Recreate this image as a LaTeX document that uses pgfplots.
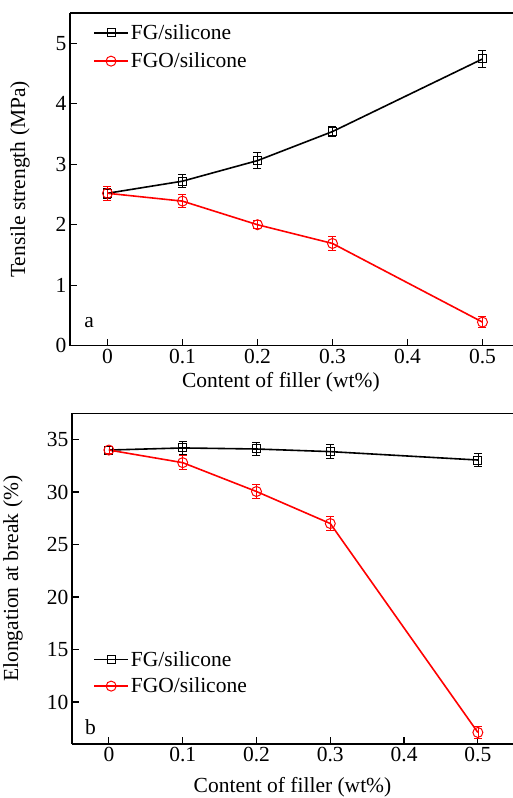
\documentclass[border=0pt]{standalone}
\usepackage{fontspec}
\setmainfont{Liberation Serif}
\usepackage{pgfplots}
\pgfplotsset{compat=1.18}

\newcommand{\bigfont}{\fontsize{21.5}{24}\selectfont}

\pgfplotsset{
  panel/.style={
    scale only axis,
    axis x line*=box, axis y line*=left,
    xtick pos=bottom, ytick pos=left,
    tick align=inside, major tick length=7pt,
    axis line style={line width=1.2pt}, every tick/.style={line width=1.2pt, black},
    xmin=-0.05,
    xtick={0,0.1,0.2,0.3,0.4,0.5},
    xticklabels={0,0.1,0.2,0.3,0.4,0.5},
    tick label style={font=\bigfont},
    /pgf/number format/assume math mode=true,
    label style={font=\bigfont},
    clip=false,
    legend cell align=left,
    legend style={draw=none, fill=none, font=\bigfont,
      inner sep=0pt},
    legend image code/.code={
      \draw[mark repeat=2, mark phase=2] plot coordinates {(0pt,0pt) (17pt,0pt) (34pt,0pt)};},
    error bars/error mark options={rotate=90, mark size=4pt, line width=1pt},
  },
  fg/.style={black, line width=1.6pt, mark=square, mark size=4pt,
    mark options={fill=white, line width=1pt},
    error bars/.cd, y dir=both, y explicit},
  fgo/.style={red, line width=1.6pt, mark=o, mark size=5pt,
    mark options={fill=white, line width=1pt},
    error bars/.cd, y dir=both, y explicit},
}

\begin{document}
\begin{tikzpicture}
\useasboundingbox (0pt,0pt) rectangle (513pt,-798pt);

% (a) tensile strength
\begin{axis}[panel,
  at={(70pt,-345.7pt)}, anchor=south west,
  width=443pt, height=332.7pt,
  xmax=0.5407, ymin=0, ymax=5.5,
  ytick={0,1,2,3,4,5},
  ylabel={Tensile strength (MPa)},
  xlabel={Content of filler (wt\%)},
  xlabel style={at={(axis description cs:0.476,0)}, anchor=center, yshift=-37pt},
  ylabel style={at={(axis description cs:-0.113,0.5)}, anchor=center},
  legend style={at={(axis description cs:0.052,0.898)}, anchor=west, row sep=8pt},
]
\addplot[fg] coordinates {
  (0,2.52) +- (0,0.08)
  (0.1,2.72) +- (0,0.11)
  (0.2,3.06) +- (0,0.13)
  (0.3,3.54) +- (0,0.08)
  (0.5,4.74) +- (0,0.145)
};
\addlegendentry{FG/silicone}
\addplot[fgo] coordinates {
  (0,2.52) +- (0,0.115)
  (0.1,2.39) +- (0,0.11)
  (0.2,2.00) +- (0,0.07)
  (0.3,1.69) +- (0,0.12)
  (0.5,0.39) +- (0,0.09)
};
\addlegendentry{FGO/silicone}
\node[font=\bigfont] at (axis cs:-0.0245,0.38) {a};
\end{axis}

% (b) elongation at break
\begin{axis}[panel,
  at={(72pt,-744pt)}, anchor=south west,
  width=441pt, height=330.7pt,
  xmax=0.5476, ymin=6, ymax=37.5,
  ytick={10,15,20,25,30,35},
  ylabel={Elongation at break (\%)},
  xlabel={Content of filler (wt\%)},
  xlabel style={at={(axis description cs:0.5,0)}, anchor=center, yshift=-43pt},
  ylabel style={at={(axis description cs:-0.134,0.5)}, anchor=center},
  legend style={at={(axis description cs:0.048,0.215)}, anchor=west, row sep=6pt},
]
\addplot[fg] coordinates {
  (0,34.0) +- (0,0.3)
  (0.1,34.2) +- (0,0.6)
  (0.2,34.1) +- (0,0.6)
  (0.3,33.85) +- (0,0.7)
  (0.5,33.05) +- (0,0.65)
};
\addlegendentry{FG/silicone}
\addplot[fgo] coordinates {
  (0,34.0) +- (0,0.3)
  (0.1,32.8) +- (0,0.7)
  (0.2,30.05) +- (0,0.65)
  (0.3,27.0) +- (0,0.65)
  (0.5,7.1) +- (0,0.6)
};
\addlegendentry{FGO/silicone}
\node[font=\bigfont] at (axis cs:-0.025,7.6) {b};
\end{axis}
\end{tikzpicture}
\end{document}
